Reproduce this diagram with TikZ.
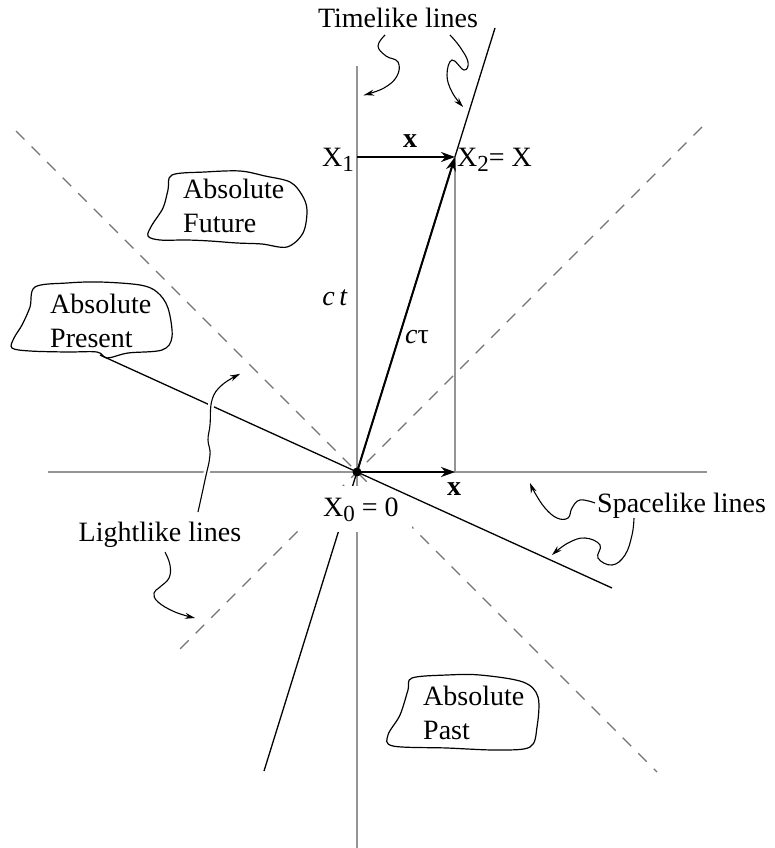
\documentclass[tikz,border=0pt]{standalone}
\usepackage{fontspec}
\setmainfont{LiberationSerif}[Extension=.ttf, UprightFont=*-Regular, BoldFont=*-Bold, ItalicFont=*-Italic, BoldItalicFont=*-BoldItalic]
\usetikzlibrary{arrows.meta}
\newcommand{\lowsub}[1]{\raisebox{-0.45ex}{\fontsize{23}{23}\selectfont #1}}
\begin{document}
\begin{tikzpicture}[x=1pt,y=-1pt,
  axis/.style={draw=black!42, line width=2pt},
  lightline/.style={draw=black!55, line width=1.3pt, dash pattern=on 12pt off 10pt},
  thinline/.style={draw=black, line width=1.3pt},
  vec/.style={draw=black, line width=2pt, -{Stealth[length=14pt,width=10pt]}},
  curly/.style={draw=black, line width=1.1pt, -{Stealth[length=10pt,width=6pt]}},
  lbl/.style={font=\fontsize{28}{34}\selectfont, inner sep=0pt},
  blobtext/.style={lbl, align=left, anchor=north west},
  blob/.style={draw=black, line width=1.2pt}
]
\useasboundingbox (0,0) rectangle (774,848);

% key points
\coordinate (O) at (357,472);
\coordinate (X1) at (357,157);
\coordinate (X2) at (455,157);
\coordinate (Xp) at (455,472);
\coordinate (yT) at (357,66);
\coordinate (yB) at (357,848);
\coordinate (xL) at (48,472);
\coordinate (xR) at (707,472);
\coordinate (d1a) at (16,131);
\coordinate (d1b) at (657,772);
\coordinate (d2a) at (702,127);
\coordinate (d2b) at (178,651);
\coordinate (tlT) at (495,28);
\coordinate (tlB) at (264,771);
\coordinate (spL) at (100,355);
\coordinate (spR) at (612,588);

% axes
\draw[axis] (yT) -- (yB);
\draw[axis] (xL) -- (xR);
% light cone
\draw[lightline] (d1a) -- (d1b);
\draw[lightline] (d2a) -- (d2b);
% timelike line
\draw[thinline] (tlB) -- (tlT);
% drop from X2
\draw[axis] (X2) -- (Xp);

% white patch under X0 label
\fill[white] (300,486) rectangle (412,532);
\node[lbl, anchor=base west] (x0lbl) at (323,516) {X\lowsub{0} = 0};

% spacelike line
\draw[thinline] (spL) -- (spR);

% vectors
\draw[vec] (X1) -- (X2);
\draw[vec] (O) -- (Xp);
\draw[vec] (O) -- (X2);
\fill (O) circle (4.5);

% labels
\node[lbl, anchor=base] (tll) at (398,28) {Timelike lines};
\node[lbl, anchor=base east] (x1lbl) at (354,166) {X\lowsub{1}};
\node[lbl, anchor=base west] (x2lbl) at (457,166) {X\lowsub{2}= X};
\node[lbl, anchor=base] (xtop) at (410,147) {\textbf{x}};
\node[lbl, anchor=base] (xbot) at (454,495) {\textbf{x}};
\node[lbl, anchor=base] (ctlbl) at (335,305) {\textit{c\,t}};
\node[lbl, anchor=base west] (ctaulbl) at (405,343) {\textit{c}τ};
\node[lbl, anchor=base] (lll) at (160,541) {Lightlike lines};
\node[lbl, anchor=base west] (sll) at (597,512) {Spacelike lines};

% blobs
\node[blobtext] (fut) at (183,179) {Absolute\\Future};
\draw[blob] plot[smooth cycle, tension=0.55] coordinates {(172,175) (205,172) (240,171) (265,176) (290,182) (302,195) (307,210) (303,233) (287,247) (262,244) (237,243) (210,241) (187,240) (160,240) (148,236) (152,225) (163,208) (168,190)};
\node[blobtext] (pres) at (50,294) {Absolute\\Present};
\draw[blob] plot[smooth cycle, tension=0.55] coordinates {(35,287) (67,283) (100,282) (140,285) (157,292) (168,308) (172,337) (162,350) (128,353) (107,358) (97,352) (67,352) (30,351) (12,348) (14,338) (22,325) (30,307)};
\node[blobtext] (past) at (423,686) {Absolute\\Past};
\draw[blob] plot[smooth cycle, tension=0.55] coordinates {(412,678) (447,675) (480,675) (523,682) (538,697) (537,727) (530,747) (497,750) (447,748) (393,746) (388,735) (400,715) (408,690)};

% curly arrows
\draw[curly] plot[smooth, tension=0.7] coordinates {(385,35) (378,46) (386,56) (398,62) (397,76) (384,88) (364,95)};
\draw[curly] plot[smooth, tension=0.7] coordinates {(450,35) (460,47) (468,62) (464,70) (452,60) (447,75) (452,92) (463,107)};
\draw[curly, preaction={draw=white, line width=6pt, arrows=-}] plot[smooth, tension=0.7] coordinates {(198,512) (205,480) (210,455) (208,440) (210,425) (212,400) (222,385) (240,374)};
\draw[curly] plot[smooth, tension=0.7] coordinates {(165,552) (170,565) (169,578) (160,587) (154,593) (158,602) (175,612) (195,618)};
\draw[curly] plot[smooth, tension=0.7] coordinates {(595,503) (580,500) (572,508) (568,518) (557,518) (545,508) (535,493) (530,483)};
\draw[curly] plot[smooth, tension=0.7] coordinates {(634,518) (632,535) (625,555) (612,565) (598,558) (600,545) (585,538) (568,543) (552,555)};
\end{tikzpicture}
\end{document}
